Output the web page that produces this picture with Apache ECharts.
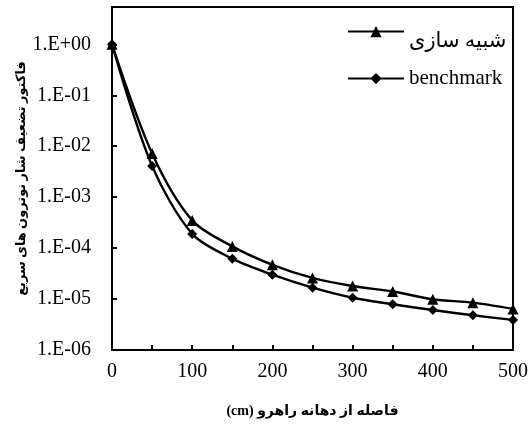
<!DOCTYPE html>
<html>
<head>
<meta charset="utf-8">
<script src="https://cdn.jsdelivr.net/npm/echarts@6/dist/echarts.min.js"></script>
<style>
  html, body { margin: 0; padding: 0; background: #fff; }
  #chart { width: 531px; height: 427px; }
</style>
</head>
<body>
<div id="chart"></div>
<script>
// distance from the duct mouth (cm)
const distances = [0, 50, 100, 150, 200, 250, 300, 350, 400, 450, 500]
// simulation (triangles)
const simulation = [1.0, 7.2e-3, 3.5e-4, 1.08e-4, 4.7e-5, 2.6e-5, 1.8e-5, 1.41e-5, 9.9e-6, 8.5e-6, 6.4e-6]
// benchmark (diamonds)
const benchmark = [1.0, 4.1e-3, 1.9e-4, 6.2e-5, 3.0e-5, 1.67e-5, 1.06e-5, 7.9e-6, 6.1e-6, 4.8e-6, 3.9e-6]
const yTickLabels = ['1.E-06', '1.E-05', '1.E-04', '1.E-03', '1.E-02', '1.E-01', '1.E+00']
const xTickLabels = ['0', '100', '200', '300', '400', '500']

const seriesNames = ['شبیه سازی', 'benchmark']
// RLE ... PDF keeps the right-to-left order of the mixed title
const xTitle = '\u202B' + 'فاصله از دهانه راهرو (cm)' + '\u202C'
const yTitle = 'فاکتور تضعیف شار نوترون های سریع'

const font = "'Liberation Serif', 'Times New Roman', 'DejaVu Sans', serif"

let toPairs = (vals) => distances.map((d, i) => [d, vals[i]])

let option = {
  animation: false,
  backgroundColor: '#fff',
  grid: {
    left: 112,
    top: 7,
    right: 15,
    bottom: 77,
    show: true,
    borderColor: '#000',
    borderWidth: 2
  },
  legend: {
    orient: 'vertical',
    left: 347,
    top: 26,
    padding: 0,
    itemWidth: 56,
    itemHeight: 14,
    itemGap: 16,
    itemStyle: { color: '#000' },
    textStyle: {
      color: '#000',
      fontFamily: font,
      fontSize: 21,
      rich: {
        low: { color: '#000', fontFamily: font, fontSize: 21, padding: [20, 0, 0, 0] }
      }
    },
    formatter (name) {
      // the first entry's text sits a little below its line
      return name === seriesNames[0] ? '{low|' + name + '}' : name
    },
    data: seriesNames
  },
  xAxis: {
    type: 'value',
    min: 0,
    max: 500,
    interval: 50,
    name: xTitle,
    nameLocation: 'middle',
    nameGap: 54,
    nameTextStyle: { color: '#000', fontFamily: font, fontSize: 14, fontWeight: 'bold' },
    axisLine: { show: true, lineStyle: { color: '#000', width: 2 } },
    axisTick: { show: true, inside: true, length: 5, lineStyle: { color: '#000', width: 2 } },
    splitLine: { show: false },
    axisLabel: {
      color: '#000',
      fontFamily: font,
      fontSize: 20,
      margin: 12,
      formatter (v) {
        if (v % 100 !== 0) return ''
        return xTickLabels[v / 100]
      }
    }
  },
  yAxis: {
    type: 'log',
    logBase: 10,
    min: 1e-6,
    max: 5.4,
    interval: 1,
    name: yTitle,
    nameLocation: 'middle',
    nameGap: 84,
    nameMoveOverlap: false,
    nameTextStyle: { color: '#000', fontFamily: font, fontSize: 13, fontWeight: 'bold' },
    axisLine: { show: true, lineStyle: { color: '#000', width: 2 } },
    axisTick: { show: true, inside: true, length: 5, lineStyle: { color: '#000', width: 2 } },
    splitLine: { show: false },
    axisLabel: {
      color: '#000',
      fontFamily: font,
      fontSize: 20,
      margin: 21,
      formatter (v) {
        let e = Math.log10(v)
        let r = Math.round(e)
        if (Math.abs(e - r) > 1e-6) return ''
        return yTickLabels[r + 6] || ''
      }
    }
  },
  series: [{
    name: seriesNames[0],
    type: 'line',
    data: toPairs(simulation),
    smooth: 0.3,
    symbol: 'triangle',
    symbolSize: 11,
    lineStyle: { color: '#000', width: 2.4 },
    itemStyle: { color: '#000' }
  }, {
    name: seriesNames[1],
    type: 'line',
    data: toPairs(benchmark),
    smooth: 0.3,
    symbol: 'diamond',
    symbolSize: 10,
    lineStyle: { color: '#000', width: 2.4 },
    itemStyle: { color: '#000' }
  }]
}

let chart = echarts.init(document.getElementById('chart'))
chart.setOption(option)
</script>
</body>
</html>
